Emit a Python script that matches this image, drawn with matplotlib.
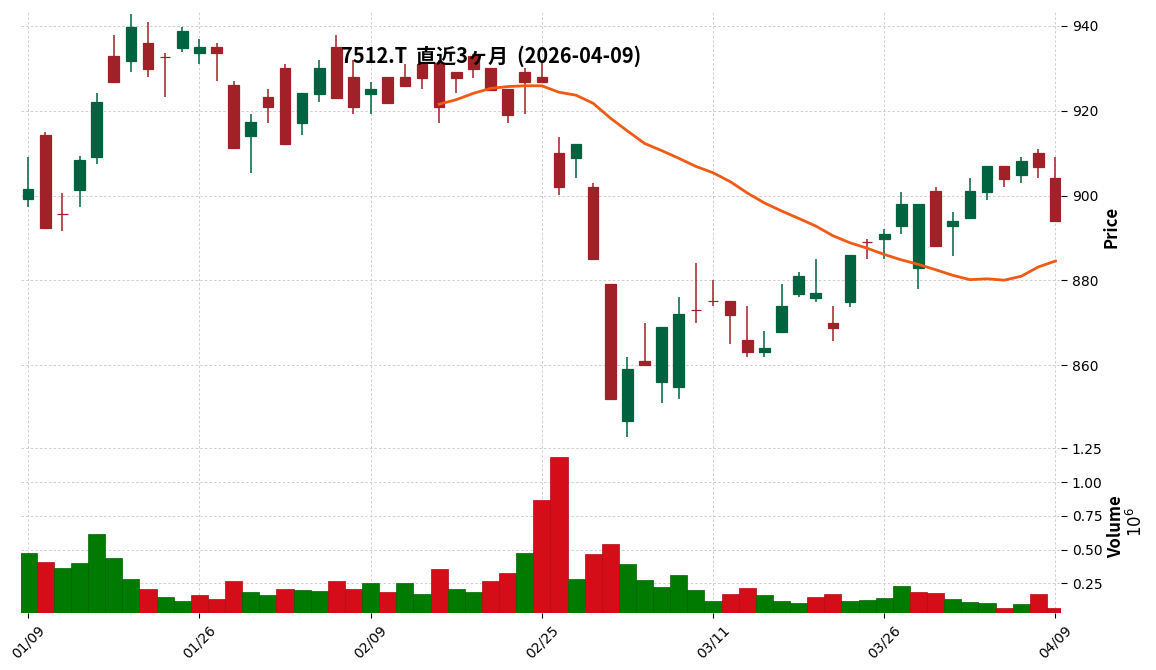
"""
7512.T 直近3ヶ月 — ローソク足 + 25日移動平均 + 出来高.
"""
import numpy as np
import matplotlib
matplotlib.use("Agg")
import matplotlib.pyplot as plt
from matplotlib.ticker import FixedLocator, FuncFormatter

JP_FONT = ["Noto Sans CJK JP", "DejaVu Sans"]

COLOR_UP = "#006340"
COLOR_DOWN = "#a02128"
COLOR_VUP = "#007a00"
COLOR_VDOWN = "#d50d18"
COLOR_MA = "#f05a14"

TITLE = "7512.T  直近3ヶ月  (2026-04-09)"

dates = [
    "01/09", "01/13", "01/14", "01/15", "01/16", "01/19", "01/20", "01/21", "01/22", "01/23",
    "01/26", "01/27", "01/28", "01/29", "01/30", "02/02", "02/03", "02/04", "02/05", "02/06",
    "02/09", "02/10", "02/12", "02/13", "02/16", "02/17", "02/18", "02/19", "02/20", "02/24",
    "02/25", "02/26", "02/27", "03/02", "03/03", "03/04", "03/05", "03/06", "03/09", "03/10",
    "03/11", "03/12", "03/13", "03/16", "03/17", "03/18", "03/19", "03/23", "03/24", "03/25",
    "03/26", "03/27", "03/30", "03/31", "04/01", "04/02", "04/03", "04/06", "04/07", "04/08",
    "04/09",
]

opens = [
    899.3, 914.3, 895.7, 901.3, 909.2, 932.9, 931.8, 936.1, 932.8, 934.9,
    933.7, 935.0, 926.1, 914.1, 923.3, 930.1, 917.2, 924.0, 935.0, 928.0,
    924.0, 928.0, 928.0, 931.0, 931.2, 929.2, 932.9, 930.1, 925.1, 929.2,
    928.0, 910.0, 908.9, 902.0, 879.2, 846.9, 861.0, 855.9, 854.9, 872.9,
    875.1, 875.1, 865.9, 863.0, 867.8, 876.8, 875.8, 870.0, 874.9, 889.1,
    889.8, 892.9, 883.0, 901.1, 892.9, 894.8, 900.9, 907.0, 904.9, 910.0,
    904.1,
]
highs = [
    909.2, 915.1, 900.5, 909.3, 924.1, 937.8, 942.8, 940.9, 933.7, 939.7,
    936.9, 935.9, 927.0, 919.2, 925.1, 931.0, 924.2, 931.9, 937.8, 932.0,
    926.9, 928.0, 931.0, 931.5, 932.0, 929.2, 933.5, 930.1, 925.1, 930.0,
    931.2, 913.9, 912.2, 902.9, 879.2, 861.9, 869.9, 869.0, 876.0, 884.0,
    880.1, 875.1, 874.0, 868.0, 879.1, 882.0, 885.0, 874.0, 886.0, 889.8,
    892.0, 900.9, 898.0, 901.9, 896.1, 904.1, 907.0, 907.0, 909.1, 910.9,
    909.1,
]
lows = [
    897.4, 892.4, 891.7, 897.4, 907.4, 926.9, 929.1, 927.9, 923.2, 933.8,
    931.0, 927.0, 911.3, 905.3, 917.2, 912.2, 914.2, 922.0, 923.0, 919.2,
    919.2, 921.9, 925.9, 925.1, 917.2, 924.1, 927.8, 924.9, 917.2, 919.2,
    926.8, 900.1, 904.1, 885.0, 851.9, 843.0, 860.0, 851.0, 851.9, 869.9,
    874.0, 864.9, 861.9, 861.9, 867.8, 876.0, 875.0, 865.8, 873.8, 885.0,
    885.0, 890.9, 877.9, 888.0, 885.8, 894.8, 899.0, 901.9, 902.9, 904.1,
    893.9,
]
closes = [
    901.6, 892.4, 895.7, 908.4, 922.1, 926.9, 939.8, 929.9, 932.8, 938.8,
    935.0, 933.7, 911.3, 917.4, 921.0, 912.2, 924.2, 930.1, 923.0, 921.0,
    925.1, 921.9, 925.9, 927.8, 921.0, 927.8, 929.9, 924.9, 919.1, 926.9,
    926.8, 901.9, 912.2, 885.0, 851.9, 859.1, 860.0, 869.0, 872.1, 872.9,
    875.1, 871.9, 863.0, 864.1, 874.0, 881.0, 877.0, 868.8, 886.0, 889.1,
    890.9, 898.0, 897.9, 888.0, 894.0, 901.1, 907.0, 904.0, 908.2, 906.8,
    893.9,
]
volumes = [
    475000, 408000, 364000, 401000, 615000, 438000, 282000, 208000, 149000, 119000,
    164000, 134000, 267000, 186000, 164000, 208000, 201000, 193000, 267000, 208000,
    252000, 186000, 252000, 171000, 356000, 208000, 186000, 267000, 327000, 475000,
    867000, 1186000, 282000, 467000, 541000, 393000, 274000, 223000, 312000, 200000,
    119000, 171000, 215000, 163000, 119000, 104000, 149000, 171000, 119000, 127000,
    141000, 230000, 186000, 178000, 134000, 111000, 104000, 67000, 97000, 171000,
    67000,
]

MAV = 25
PRICE_TICKS = [860, 880, 900, 920, 940]
VOL_TICKS = [250000, 500000, 750000, 1000000, 1250000]


def main():
    o = np.array(opens)
    h = np.array(highs)
    l = np.array(lows)
    c = np.array(closes)
    v = np.array(volumes, dtype=float)
    x = np.arange(len(dates))

    up = o < c
    candle_colors = np.where(up, COLOR_UP, COLOR_DOWN)
    # 出来高は前日終値との比較で色分け
    vup = np.concatenate([[up[0]], c[1:] > c[:-1]])
    vol_colors = np.where(vup, COLOR_VUP, COLOR_VDOWN)
    vol_edges = np.where(vup, "#006400", "#b00a14")

    ma = np.convolve(c, np.ones(MAV) / MAV, mode="valid")

    fig = plt.figure(figsize=(11.56, 6.70), dpi=100)
    W, H = 1156, 670
    left, right = 21, 1060.6
    ax_p = fig.add_axes([left / W, 1 - 441 / H, (right - left) / W, 429 / H])
    ax_v = fig.add_axes([left / W, 1 - 613 / H, (right - left) / W, 172 / H], sharex=ax_p)

    # ローソク足
    ax_p.vlines(x, l, h, colors=candle_colors, linewidth=1.1, zorder=3)
    ax_p.bar(x, np.abs(c - o), bottom=np.minimum(o, c), width=0.62,
             color=candle_colors, edgecolor=candle_colors, linewidth=0.9, zorder=4)
    ax_p.plot(x[MAV - 1:], ma, color=COLOR_MA, linewidth=2.0, zorder=5)

    # 出来高
    ax_v.bar(x, v, width=1.0, color=vol_colors, edgecolor=vol_edges, linewidth=0.5, zorder=3)

    ax_p.set_xlim(-0.42, 60.30)
    ax_p.set_ylim(842.1, 943.3)
    ax_v.set_ylim(30000, 1.1 * v.max())

    for ax in (ax_p, ax_v):
        for sp in ax.spines.values():
            sp.set_visible(False)
        ax.yaxis.tick_right()
        ax.yaxis.set_label_position("right")
        ax.grid(True, linestyle=(0, (3, 2.5)), color="#c8c8c8", linewidth=0.6, zorder=0)
        ax.set_axisbelow(True)
        ax.tick_params(axis="y", length=4, labelsize=10, pad=4)
        ax.tick_params(axis="x", length=3.5, labelsize=10)

    ax_p.yaxis.set_major_locator(FixedLocator(PRICE_TICKS))
    ax_p.set_yticklabels([str(t) for t in PRICE_TICKS])
    ax_v.yaxis.set_major_locator(FixedLocator(VOL_TICKS))
    ax_v.yaxis.set_major_formatter(FuncFormatter(lambda val, pos: f"{val / 1e6:.2f}"))

    tick_idx = list(range(0, len(dates), 10))
    ax_v.xaxis.set_major_locator(FixedLocator(tick_idx))
    ax_v.set_xticklabels([dates[i] for i in tick_idx], rotation=45, ha="center")
    ax_p.tick_params(axis="x", which="both", bottom=False, labelbottom=False)

    ax_p.set_ylabel("Price", fontsize=12, fontweight="bold", family=JP_FONT, labelpad=3)
    ax_v.set_ylabel("Volume", fontsize=12, fontweight="bold", family=JP_FONT, labelpad=3)
    fig.text(1136 / W, 1 - 522 / H, r"$10^{6}$", rotation=90, fontsize=12,
             ha="center", va="center")

    fig.text(491 / W, 1 - 56 / H, TITLE, fontsize=14.4, fontweight="bold",
             family=JP_FONT, ha="center", va="center")

    fig.savefig("out.png", dpi=100)
    plt.close(fig)


if __name__ == "__main__":
    main()
